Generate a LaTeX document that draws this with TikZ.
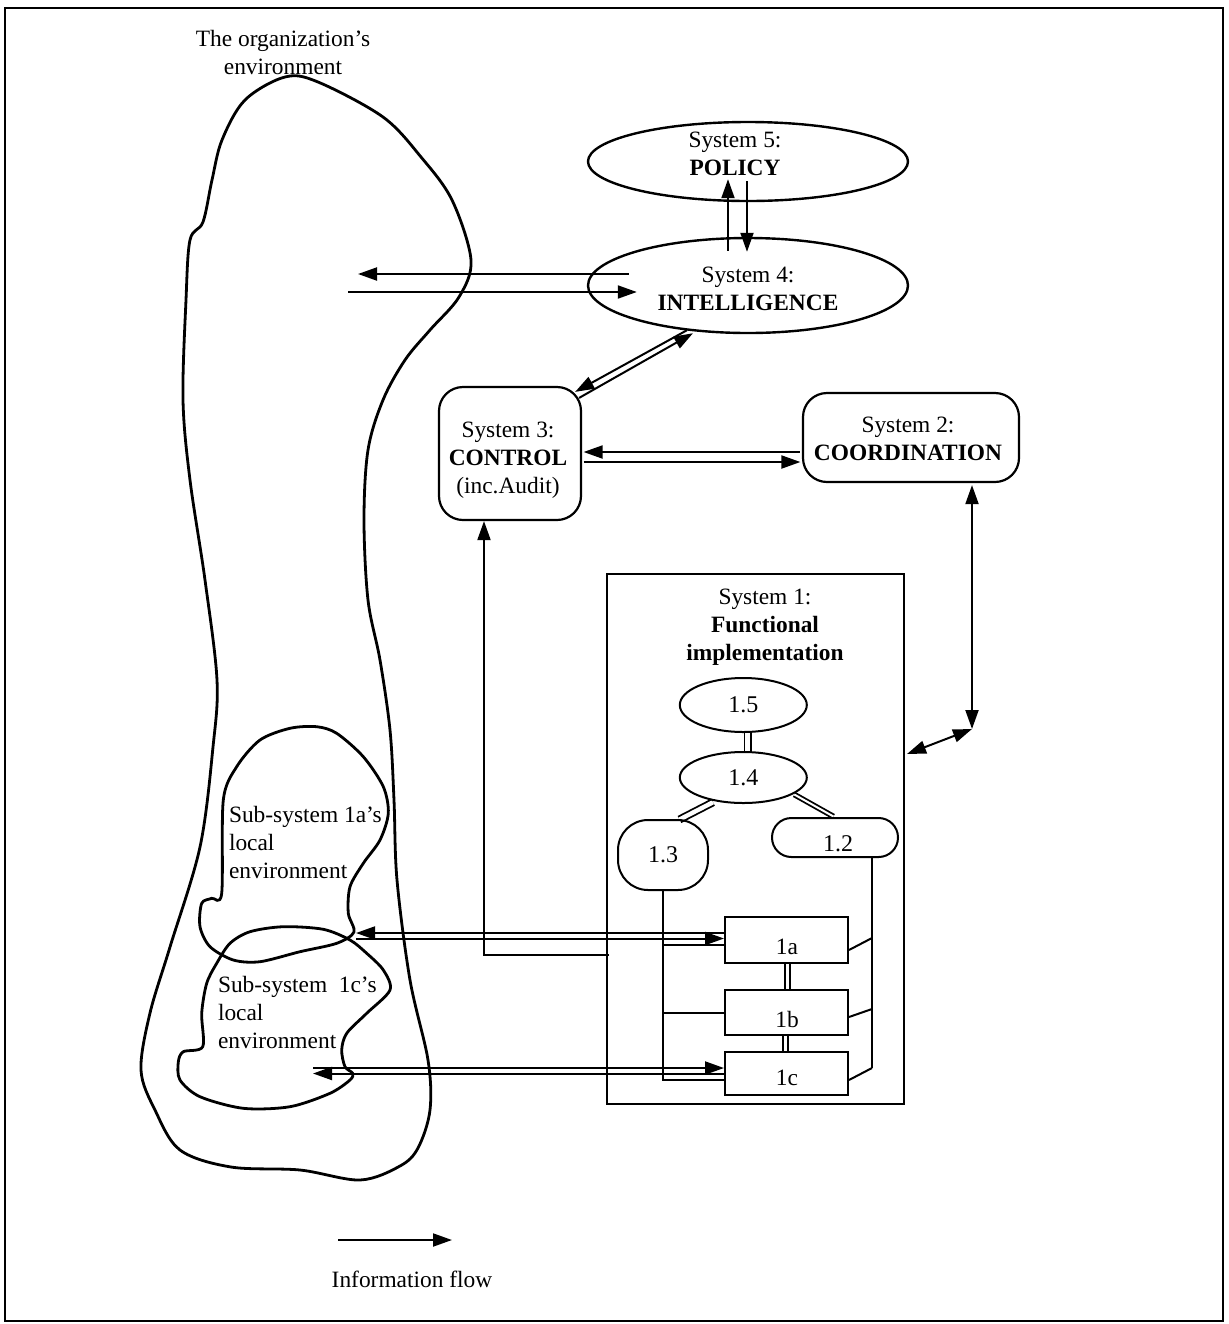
\documentclass[tikz,border=0pt]{standalone}
\usepackage{fontspec}
\setmainfont{Liberation Serif}
\usetikzlibrary{arrows.meta,calc,shapes.geometric,backgrounds}
\begin{document}
\begin{tikzpicture}[x=0.5pt,y=-0.5pt,
  line width=1pt,
  flowtip/.tip={Triangle[length=9.5pt,width=6.5pt]},
  flow/.style={-flowtip},
  twoway/.style={flowtip-flowtip},
  dbl/.style={double, double distance=#1, line width=0.9pt},
  blob/.style={line width=1.4pt, line join=round},
  lbl/.style={font=\fontsize{11.7}{14}\selectfont, align=center, inner sep=0pt},
  lbll/.style={font=\fontsize{11.7}{14}\selectfont, align=left, inner sep=0pt, anchor=north west},
  sysell/.style={draw, ellipse, line width=1.2pt, inner sep=0pt},
  rbox/.style={draw, rounded corners=12pt, line width=1.1pt, inner sep=0pt},
  sbox/.style={draw, line width=1pt, inner sep=0pt},
]
\useasboundingbox (0,0) rectangle (1228,1324);
\draw[line width=1.2pt] (5,8) rectangle (1223,1321);

% the organization's environment
\draw[blob] plot[smooth cycle, tension=0.55] coordinates {
  (285,77) (318,82) (383,117) (421,157) (452,200) (471,260) (459,297)
  (430,330) (405,360) (383,400) (368,450) (364,520) (368,600) (380,660)
  (390,730) (394,800) (397,880) (410,980) (428,1060) (430,1110) (418,1148)
  (400,1166) (360,1180) (300,1170) (231,1167) (180,1150) (155,1110)
  (141,1070) (150,1013) (170,947) (200,847) (213,747) (217,680) (205,580)
  (190,480) (183,400) (186,300) (190,240) (203,222) (212,180) (222,140) (245,100)};
\node[lbl] (envtxt) at (283,52) {The organization's\\environment};

% local environment of sub-system 1a
\draw[blob] plot[smooth cycle, tension=0.5] coordinates {
  (221.7,893.3) (223.3,800) (236.7,766.7) (260,740) (290,728.3) (316.7,726.7)
  (336.7,733.3) (363.3,756.7) (383.3,786.7) (388.3,813.3) (380,840)
  (363.3,863.3) (350,886.7) (348.3,913.3) (354,932) (336.7,943.3) (300,951.7)
  (260,961.7) (233.3,960) (210,946.7) (200,926.7) (201.7,903.3) (211.7,898.3)};
\node[lbll] (loc1a) at (228,805) {Sub-system 1a's\\local\\environment};

% local environment of sub-system 1c
\draw[blob] plot[smooth cycle, tension=0.5] coordinates {
  (283.3,926.7) (250,931.7) (230,943.3) (216.7,963.3) (206.7,983.3)
  (201.7,1013.3) (202.7,1046.7) (183.3,1051.7) (178.3,1062) (180,1080)
  (200,1096.7) (243.3,1108.3) (290,1106.7) (330,1093.3) (350,1080)
  (352.7,1073.3) (345,1066.7) (341.7,1050) (346.7,1033.3) (366.7,1013.3)
  (390,990) (383.3,970) (366.7,953.3) (350,940) (323.3,929.3)};
\node[lbll] (loc1c) at (217,975) {Sub-system\ \ 1c's\\local\\environment};

% systems 5 to 2
\node[sysell, minimum width=160pt, minimum height=39.5pt] (s5) at (748,161.5) {};
\node[lbl] (s5t) at (735,154) {System 5:\\\textbf{POLICY}};
\node[sysell, minimum width=160pt, minimum height=47.5pt] (s4) at (748,285.5) {};
\node[lbl] (s4t) at (748,289) {System 4:\\\textbf{INTELLIGENCE}};
\node[rbox, minimum width=71pt, minimum height=66.5pt] (s3) at (510,453.5) {};
\node[lbl] (s3t) at (508,460) {System 3:\\\textbf{CONTROL}\\(inc.Audit)};
\node[rbox, minimum width=108pt, minimum height=44.5pt] (s2) at (911,437.5) {};
\node[lbl] (s2t) at (908,439) {System 2:\\\textbf{COORDINATION}};

% system 1
\node[sbox, minimum width=148.5pt, minimum height=265pt] (s1) at (755.5,839) {};
\node[lbl] (s1t) at (765,627) {System 1:\\\textbf{Functional}\\\textbf{implementation}};
\node[sysell, line width=1pt, minimum width=63.5pt, minimum height=27pt, font=\fontsize{12}{14}\selectfont] (n15) at (743.3,705) {1.5};
\node[sysell, line width=1pt, minimum width=63.5pt, minimum height=25.5pt, font=\fontsize{12}{14}\selectfont] (n14) at (743.3,777.5) {1.4};
\node[draw, rounded corners=15pt, inner sep=0pt, minimum width=45pt, minimum height=35pt, font=\fontsize{12}{14}\selectfont] (n13) at (663,855) {1.3};
\node[draw, rounded corners=9.7pt, inner sep=0pt, minimum width=63pt, minimum height=19.5pt] (n12) at (835,837.5) {};
\node[lbl, font=\fontsize{12}{14}\selectfont] (n12t) at (838,844) {1.2};
\node[sbox, minimum width=61.5pt, minimum height=23pt] (n1a) at (786.5,940) {};
\node[lbl] (n1at) at (787,947) {1a};
\node[sbox, minimum width=61.5pt, minimum height=22.5pt] (n1b) at (786.5,1012.5) {};
\node[lbl] (n1bt) at (787,1019) {1b};
\node[sbox, minimum width=61.5pt, minimum height=21.5pt] (n1c) at (786.5,1073.5) {};
\node[lbl] (n1ct) at (787,1078) {1c};

% double links inside system 1
\begin{scope}[on background layer]
  \draw[dbl=2.5pt] ($(n15.south)+(4.5,0)$) -- ($(n14.north)+(4.5,0)$);
  \draw[dbl=2.2pt] ($(n13.north)+(16.5,0.5)$) -- ($(n14.south)+(-30.3,-1.75)$);
  \draw[dbl=1pt] ($(n14.center)+(51,17)$) -- ($(n12.north)+(-1.5,-0.5)$);
  \draw[dbl=1.5pt] ($(n1a.south)+(1,0)$) -- ($(n1b.north)+(1,0)$);
  \draw[dbl=1.5pt] ($(n1b.south)+(-1,0)$) -- ($(n1c.north)+(-1,0)$);
\end{scope}

% 1.3 and 1.2 to the operational units
\draw (n13.south) |- ($(n1c.west)+(0,6.5)$);
\draw ($(n13.south |- n1a.west)+(0,5)$) -- ($(n1a.west)+(0,5)$);
\draw (n13.south |- n1b.west) -- (n1b.west);
\coordinate (rail) at ($(n12.south)+(37,0)$);
\draw (rail) -- ($(rail)+(0,210)$);
\draw ($(rail)+(0,80)$) -- ($(n1a.east)+(0,10)$);
\draw ($(rail)+(0,151)$) -- ($(n1b.east)+(0,4.5)$);
\draw ($(rail)+(0,210)$) -- ($(n1c.east)+(0,6.5)$);

% information flows between the systems
\draw[flow] ($(s4.north)+(-20,14)$) -- ($(s5.south)+(-20,-23)$);
\draw[flow] ($(s5.south)+(-1,-21)$) -- ($(s4.north)+(-1,15)$);

\coordinate (envL) at (358,274);
\coordinate (envR) at (348,292);
\draw[flow] ($(s4.west)+(42,-11.5)$) -- (envL);
\draw[flow] (envR) -- ($(s4.west)+(50,6.5)$);

\draw[flow] ($(s4.south)+(-61,-4)$) -- ($(s3.north east)+(-7,6)$);
\draw[flow] ($(s3.north east)+(-3,12)$) -- ($(s4.south)+(-55,-1)$);

\draw[flow] ($(s2.west)+(-2,14.5)$) -- ($(s3.east)+(1.5,-1.5)$);
\draw[flow] ($(s3.east)+(1.5,8.5)$) -- ($(s2.west)+(-1.5,24.5)$);

\coordinate (hub) at (972,729);
\draw[twoway] ($(s2.south)+(61,2)$) -- (hub);
\draw[twoway] (hub) -- ($(s1.east)+(2,-85)$);

\draw[flow] ($(s1.west)+(3,116)$) -| ($(s3.south)+(-26,0)$);

\coordinate (e1a) at (356,935.5);
\draw[flow] ($(n1a.west)+(0,-7)$) -- ($(e1a)+(0,-2.5)$);
\draw[flow] ($(e1a)+(0,3)$) -- ($(n1a.west)+(0,-1.5)$);

\coordinate (e1c) at (313,1070.5);
\draw[flow] ($(e1c)+(0,-2.5)$) -- ($(n1c.west)+(0,-5.5)$);
\draw[flow] (n1c.west) -- ($(e1c)+(0,3)$);

% legend
\coordinate (legA) at (338,1240);
\coordinate (legB) at (452,1240);
\draw[flow] (legA) -- (legB);
\node[lbl] (legtxt) at (412,1279) {Information flow};
\end{tikzpicture}
\end{document}
